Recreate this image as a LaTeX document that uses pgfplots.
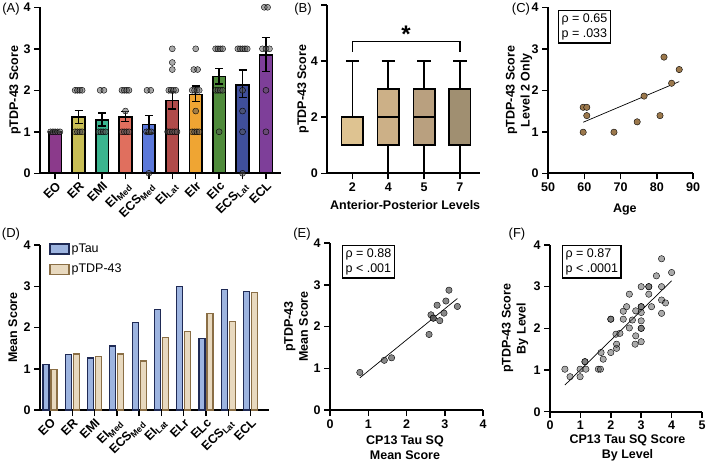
\documentclass[border=0pt]{standalone}
\usepackage{fontspec}
\setmainfont{Liberation Sans}
\usepackage{pgfplots}
\pgfplotsset{compat=1.18}
\usepgfplotslibrary{statistics}
\definecolor{cEO}{HTML}{8B3A8B}
\definecolor{cER}{HTML}{C8BE55}
\definecolor{cEMI}{HTML}{3BB58F}
\definecolor{cEIM}{HTML}{E06F5E}
\definecolor{cECSM}{HTML}{5B78DA}
\definecolor{cEIL}{HTML}{B04B4A}
\definecolor{cEIr}{HTML}{EFA533}
\definecolor{cEIc}{HTML}{4F8B3B}
\definecolor{cECSL}{HTML}{3F4F9B}
\definecolor{cECL}{HTML}{7E3F99}
\definecolor{bxA}{HTML}{DEC391}
\definecolor{bxB}{HTML}{CCB087}
\definecolor{bxC}{HTML}{B9A07F}
\definecolor{bxD}{HTML}{A08F71}
\definecolor{brownpt}{HTML}{9B784C}
\definecolor{tauF}{HTML}{9DB4E0}
\definecolor{tauD}{HTML}{1F2A55}
\definecolor{tdpF}{HTML}{E8D9BF}
\definecolor{tdpD}{HTML}{8A6E45}
\definecolor{dotg}{HTML}{555555}
\newcommand{\lf}{\bfseries\fontsize{12.5}{15}\selectfont}
\newcommand{\rf}{\fontsize{12.5}{15}\selectfont}
\pgfplotsset{
  gp/.style={scale only axis, anchor=south west, clip=false,
    axis x line*=bottom, axis y line*=left,
    axis line style={-, line width=1.8pt, black},
    every tick/.style={line width=1.5pt, black},
    tick align=outside, major tick length=6pt,
    /pgf/number format/assume math mode=true,
    tick label style={font=\lf}, label style={font=\lf, align=center},
    ylabel style={anchor=center}, xlabel style={anchor=center}},
  abar/.style={ybar, bar width=12.7pt, bar shift=0pt, draw=black, line width=1.6pt, fill=#1,
    error bars/y dir=both, error bars/y explicit,
    error bars/error bar style={line width=1.3pt, black},
    error bars/error mark options={line width=1.3pt, mark size=4pt, black, rotate=90}},
  dots/.style={only marks, mark=*, mark size=3pt, mark options={draw=none, fill=dotg, fill opacity=0.5}},
  bx/.style={draw=black, line width=1.6pt, fill=#1, solid}
}
\begin{document}
\begin{tikzpicture}[x=1pt,y=1pt]
\useasboundingbox (0,0) rectangle (709,472);
% ---------------- A
\begin{axis}[gp, at={(40pt,298.7pt)}, width=240.7pt, height=166pt,
  xmin=-0.65, xmax=9.63, ymin=0, ymax=4, ytick={0,1,2,3,4}, xtick={0,...,9},
  xticklabels={EO,ER,EMI,EI\textsubscript{Med},ECS\textsubscript{Med},EI\textsubscript{Lat},EIr,EIc,ECS\textsubscript{Lat},ECL},
  xticklabel style={rotate=45, anchor=north east, inner sep=1pt},
  ylabel={pTDP-43 Score}, ylabel style={at={(axis description cs:-0.104,0.5)}}]
\addplot[abar=cEO] coordinates {(0,1.00) +- (0,0.02)};
\addplot[abar=cER] coordinates {(1,1.35) += (0,0.17) -= (0,0.15)};
\addplot[abar=cEMI] coordinates {(2,1.28) += (0,0.17) -= (0,0.14)};
\addplot[abar=cEIM] coordinates {(3,1.36) += (0,0.13) -= (0,0.12)};
\addplot[abar=cECSM] coordinates {(4,1.18) += (0,0.21) -= (0,0.21)};
\addplot[abar=cEIL] coordinates {(5,1.75) += (0,0.22) -= (0,0.20)};
\addplot[abar=cEIr] coordinates {(6,1.90) += (0,0.20) -= (0,0.17)};
\addplot[abar=cEIc] coordinates {(7,2.33) += (0,0.20) -= (0,0.18)};
\addplot[abar=cECSL] coordinates {(8,2.13) += (0,0.36) -= (0,0.31)};
\addplot[abar=cECL] coordinates {(9,2.85) += (0,0.42) -= (0,0.39)};
\addplot[dots] coordinates {
 (-0.2,1) (-0.1,1) (0,1) (0.1,1) (0.2,1)
 (0.85,2) (0.95,2) (1.05,2) (1.15,2) (0.85,1) (0.95,1) (1.05,1) (1.15,1)
 (1.92,2) (2.08,2) (1.85,1) (1.95,1) (2.05,1) (2.15,1)
 (2.85,2) (2.95,2) (3.05,2) (3.15,2) (3,1.5) (2.85,1) (2.95,1) (3.05,1) (3.15,1)
 (3.92,2) (4.08,2) (3.9,1) (4,1) (4.1,1) (4,0)
 (5,3) (5,2.67) (5,2.5) (4.85,2) (4.95,2) (5.05,2) (5.15,2) (4.8,1) (4.9,1) (5,1) (5.1,1) (5.2,1)
 (6,3) (5.92,2.5) (6.08,2.5) (5.85,2) (5.95,2) (6.05,2) (6.15,2) (6,1.5) (5.85,1) (5.95,1) (6.05,1) (6.15,1)
 (6.85,3) (6.95,3) (7.05,3) (7.15,3) (6.85,2) (6.95,2) (7.05,2) (7.15,2) (7,1)
 (7.8,3) (7.9,3) (8,3) (8.1,3) (8.2,3) (8,2) (8,1.5) (8,1) (8,0)
 (8.93,4) (9.07,4) (8.85,3) (9,3) (9.15,3) (9,2) (9,1)
};
\end{axis}
% ---------------- B
\begin{axis}[gp, at={(327.3pt,298.7pt)}, width=152.7pt, height=168.3pt,
  xmin=0.3, xmax=4.56, ymin=0, ymax=6, ytick={0,2,4,6}, yticklabels={0,2,4,},
  xtick={1,2,3,4}, xticklabels={2,4,5,7},
  boxplot/draw direction=y,
  xlabel={Anterior-Posterior Levels}, xlabel style={at={(axis description cs:0.51,-0.188)}},
  ylabel={pTDP-43 Score}, ylabel style={at={(axis description cs:-0.159,0.5)}}]
\addplot[bx=bxA, boxplot prepared={draw position=1, lower whisker=1, lower quartile=1, median=2, upper quartile=2, upper whisker=4, box extend=0.6, whisker extend=0.37}] coordinates {};
\addplot[bx=bxB, boxplot prepared={draw position=2, lower whisker=0, lower quartile=1, median=2, upper quartile=3, upper whisker=4, box extend=0.6, whisker extend=0.37}] coordinates {};
\addplot[bx=bxC, boxplot prepared={draw position=3, lower whisker=0, lower quartile=1, median=2, upper quartile=3, upper whisker=4, box extend=0.6, whisker extend=0.37}] coordinates {};
\addplot[bx=bxD, boxplot prepared={draw position=4, lower whisker=0, lower quartile=1, median=3, upper quartile=3, upper whisker=4, box extend=0.6, whisker extend=0.37}] coordinates {};
\draw[line width=1.2pt] (axis cs:1,4.33) -- (axis cs:1,4.71) -- (axis cs:4,4.71) -- (axis cs:4,4.33);
\node[font=\bfseries\fontsize{24}{24}\selectfont] at (axis cs:2.5,4.95) {*};
\end{axis}
% ---------------- C
\begin{axis}[gp, at={(548pt,298.7pt)}, width=145pt, height=166pt,
  xmin=50, xmax=90, ymin=0, ymax=4, xtick={50,60,70,80,90}, ytick={0,1,2,3,4},
  xlabel={Age}, xlabel style={at={(axis description cs:0.53,-0.221)}},
  ylabel={pTDP-43 Score\\Level 2 Only}, ylabel style={at={(axis description cs:-0.2,0.5)}}]
\addplot[only marks, mark=*, mark size=3.2pt, mark options={draw=none, fill=brownpt}] coordinates {
 (59.7,1.59) (60.7,1.59) (60.7,1.39) (59.7,0.99) (68.2,0.99) (74.6,1.24) (76.5,1.86) (80.9,1.39) (82.0,2.80) (84.1,2.17) (86.2,2.50)};
\addplot[black, line width=0.7pt] coordinates {(59.7,1.23) (86.2,2.21)};
\end{axis}
\node[draw, line width=1.2pt, anchor=north west, align=left, font=\rf, inner sep=3pt] at (558,462) {ρ = 0.65\\p = .033};
% ---------------- D
\begin{axis}[gp, at={(40pt,62pt)}, width=229.3pt, height=165pt,
  xmin=-0.45, xmax=9.84, ymin=0, ymax=4, ytick={0,1,2,3,4}, xtick={0,...,9},
  xticklabels={EO,ER,EMI,EI\textsubscript{Med},ECS\textsubscript{Med},EI\textsubscript{Lat},ELr,ELc,ECS\textsubscript{Lat},ECL},
  xticklabel style={rotate=45, anchor=north east, inner sep=1pt},
  ylabel={Mean Score}, ylabel style={at={(axis description cs:-0.118,0.5)}},
  legend style={at={(axis description cs:0.04,1.02)}, anchor=north west, draw=none, fill=none,
    font=\rf, row sep=6pt, inner sep=0pt, cells={anchor=west}},
  legend cell align=left]
\addplot[ybar, bar width=6pt, bar shift=-4pt, fill=tauF, draw=tauD, line width=1.2pt,
  legend image code/.code={\draw[fill=tauF, draw=tauD, line width=1.2pt] (0pt,-5pt) rectangle (19pt,5pt);}]
  coordinates {(0,1.10) (1,1.35) (2,1.26) (3,1.55) (4,2.13) (5,2.43) (6,2.99) (7,1.74) (8,2.92) (9,2.88)};
\addlegendentry{pTau}
\addplot[ybar, bar width=6pt, bar shift=4pt, fill=tdpF, draw=tdpD, line width=1.2pt,
  legend image code/.code={\draw[fill=tdpF, draw=tdpD, line width=1.2pt] (0pt,-5pt) rectangle (19pt,5pt);}]
  coordinates {(0,0.99) (1,1.36) (2,1.29) (3,1.36) (4,1.19) (5,1.76) (6,1.91) (7,2.33) (8,2.14) (9,2.85)};
\addlegendentry{pTDP-43}
\end{axis}
% ---------------- E
\begin{axis}[gp, at={(330pt,62pt)}, width=153pt, height=167pt,
  xmin=0, xmax=4, ymin=0, ymax=4, xtick={0,1,2,3,4}, ytick={0,1,2,3,4},
  xlabel={CP13 Tau SQ\\Mean Score}, xlabel style={at={(axis description cs:0.49,-0.225)}},
  ylabel={pTDP-43\\Mean Score}, ylabel style={at={(axis description cs:-0.222,0.5)}}]
\addplot[only marks, mark=*, mark size=3.2pt, mark options={draw=none, fill=dotg, fill opacity=0.7}] coordinates {
 (0.78,0.90) (1.42,1.19) (1.61,1.25) (2.59,1.81) (2.64,2.28) (2.70,2.20) (2.70,2.20) (2.80,2.51) (2.87,2.14) (2.98,2.32) (3.03,2.61) (3.11,2.87) (3.33,2.48)};
\addplot[black, line width=0.7pt] coordinates {(0.78,0.77) (3.33,2.67)};
\end{axis}
\node[draw, line width=1.2pt, anchor=north west, align=left, font=\rf, inner sep=3pt] at (342,227) {ρ = 0.88\\p < .001};
% ---------------- F
\begin{axis}[gp, at={(550pt,60.3pt)}, width=152pt, height=166.7pt,
  xmin=0, xmax=5, ymin=0, ymax=4, xtick={0,1,2,3,4,5}, ytick={0,1,2,3,4},
  xlabel={CP13 Tau SQ Score\\By Level}, xlabel style={at={(axis description cs:0.51,-0.215)}},
  ylabel={pTDP-43 Score\\By Level}, ylabel style={at={(axis description cs:-0.23,0.5)}}]
\addplot[only marks, mark=*, mark size=3.2pt, mark options={draw=none, fill=dotg, fill opacity=0.5}] coordinates {
 (0.49,1.02) (0.66,0.84) (0.99,1.02) (0.99,0.84) (1.15,1.2) (1.18,1.02) (1.15,1.2)
 (1.59,1.02) (1.66,1.02) (1.75,1.26) (1.68,1.42) (2.0,1.42) (2.19,1.52) (2.19,1.62)
 (2.17,1.86) (2.3,1.88) (2.0,2.22) (2.0,2.22) (2.41,2.22) (2.41,2.41) (2.52,2.52)
 (2.61,2.01) (2.71,2.2) (2.61,2.82) (2.82,2.42) (2.82,1.82) (2.8,1.62) (3.0,2.52) (3.0,2.52)
 (3.0,2.38) (3.0,2.18) (3.0,2.0) (3.0,2.0) (3.0,1.68) (3.0,3.0) (3.25,3.0) (3.25,3.0)
 (3.25,2.82) (3.34,2.52) (3.5,3.26) (3.67,3.0) (3.67,2.68) (3.67,2.36) (3.8,2.61) (4.0,3.34) (3.67,3.67)};
\addplot[black, line width=0.7pt] coordinates {(0.49,0.64) (4.0,3.14)};
\end{axis}
\node[draw, line width=1.2pt, anchor=north west, align=left, font=\rf, inner sep=3pt] at (562,227) {ρ = 0.87\\p < .0001};
% panel letters
\node[font=\fontsize{13}{13}\selectfont] at (11,463) {(A)};
\node[font=\fontsize{13}{13}\selectfont] at (303,463) {(B)};
\node[font=\fontsize{13}{13}\selectfont] at (521,463) {(C)};
\node[font=\fontsize{13}{13}\selectfont] at (11,238) {(D)};
\node[font=\fontsize{13}{13}\selectfont] at (302,238) {(E)};
\node[font=\fontsize{13}{13}\selectfont] at (517,238) {(F)};
\end{tikzpicture}
\end{document}
